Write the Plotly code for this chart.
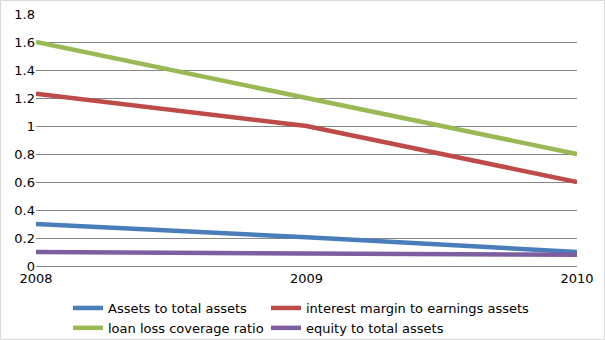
import plotly.graph_objects as go

years = [2008, 2009, 2010]
assets_to_total = [0.30, 0.205, 0.10]
interest_margin = [1.23, 1.0, 0.60]
loan_loss_cov = [1.60, 1.20, 0.80]
equity_to_total = [0.10, 0.09, 0.08]

names = ["Assets to total assets", "interest margin to earnings assets",
         "loan loss coverage ratio", "equity to total assets"]
colors = ["#4a7ebb", "#be4b48", "#98b954", "#7d5fa0"]
series = [assets_to_total, interest_margin, loan_loss_cov, equity_to_total]
legend_ids = ["legend", "legend2", "legend", "legend2"]

W, H = 605, 340
ml, mr, mt, mb = 36, 28, 14, 74

fig = go.Figure()
for n, c, s, lg in zip(names, colors, series, legend_ids):
    fig.add_trace(go.Scatter(x=years, y=s, mode="lines", name=n, legend=lg,
                             line=dict(color=c, width=4.5)))

pw = W - ml - mr
ph = H - mt - mb
fig.add_shape(type="rect", xref="paper", yref="paper",
              x0=-ml / pw + 0.5 / pw, x1=1 + (mr - 0.5) / pw,
              y0=-(mb - 0.5) / ph, y1=1 + (mt - 0.5) / ph,
              line=dict(color="#d9d9d9", width=1), layer="below")

leg_common = dict(orientation="v", xanchor="left", yref="container", xref="container",
                  y=1 - 293 / H, yanchor="top", font=dict(size=13),
                  itemwidth=30, tracegroupgap=0, bgcolor="rgba(0,0,0,0)")

fig.update_layout(
    width=W, height=H,
    margin=dict(l=ml, r=mr, t=mt, b=mb, autoexpand=False),
    paper_bgcolor="white", plot_bgcolor="white",
    font=dict(family="DejaVu Sans", size=13, color="black"),
    xaxis=dict(range=[2008, 2010], tickvals=years, ticktext=[str(y) for y in years],
               showgrid=False, zeroline=False, showline=True, linecolor="#868686",
               linewidth=1, ticks="", tickfont=dict(size=13)),
    yaxis=dict(range=[0, 1.8], tickvals=[0, 0.2, 0.4, 0.6, 0.8, 1, 1.2, 1.4, 1.6, 1.8],
               ticktext=["0", "0.2", "0.4", "0.6", "0.8", "1", "1.2", "1.4", "1.6", "1.8"],
               showgrid=True, gridcolor="#868686", gridwidth=1, zeroline=False,
               showline=False, ticks="", tickfont=dict(size=13)),
    legend=dict(x=68 / W, **leg_common),
    legend2=dict(x=266 / W, **leg_common),
    showlegend=True,
)

fig.write_html("out.html")
